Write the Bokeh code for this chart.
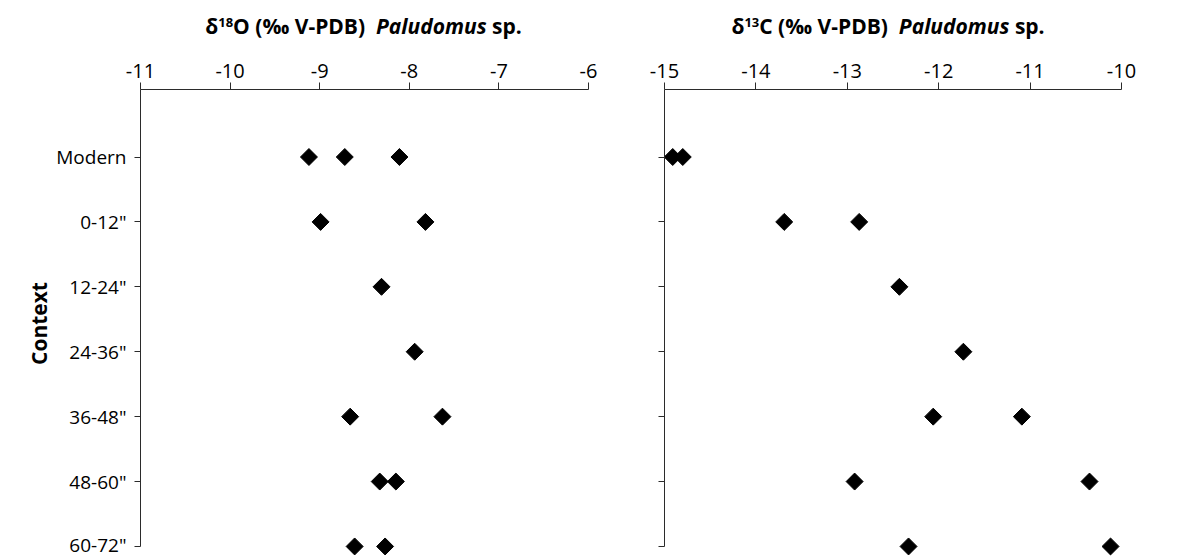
import numpy as np
from bokeh.plotting import figure
from bokeh.layouts import row, column
from bokeh.models import Range1d, FixedTicker, Div
from bokeh.embed import file_html
from bokeh.resources import INLINE

# ---- data ----
contexts = ["Modern", '0-12"', '12-24"', '24-36"', '36-48"', '48-60"', '60-72"']
d18o = [
    [-9.12, -8.72, -8.11],
    [-8.99, -7.82],
    [-8.31],
    [-7.94],
    [-8.66, -7.63],
    [-8.33, -8.15],
    [-8.61, -8.27],
]
d13c = [
    [-14.91, -14.80],
    [-13.69, -12.87],
    [-12.43],
    [-11.73],
    [-12.06, -11.09],
    [-12.92, -10.35],
    [-12.33, -10.12],
]
o_ticks = [-11, -10, -9, -8, -7, -6]
c_ticks = [-15, -14, -13, -12, -11, -10]
o_title = ("δ", "18", "O (‰ V-PDB)", "Paludomus", "sp.")
c_title = ("δ", "13", "C (‰ V-PDB)", "Paludomus", "sp.")
y_title = "Context"

FONT = "Open Sans"
AXC = "#2b2b2b"
HEAD = 50
H = 557 - HEAD
TOP = 89 - HEAD


def flat(vals):
    xs, ys = [], []
    for i, vs in enumerate(vals):
        for v in vs:
            xs.append(v)
            ys.append(i + 1)
    return xs, ys


def make_panel(width, bl, br, xr, ticks, vals, show_labels):
    p = figure(width=width, height=H, x_axis_location="above",
               x_range=Range1d(xr[0], xr[1]), y_range=Range1d(7.17, -0.04),
               output_backend="svg", toolbar_location=None,
               min_border_left=bl, min_border_right=br,
               min_border_top=TOP, min_border_bottom=0)
    p.outline_line_color = None
    p.xgrid.visible = False
    p.ygrid.visible = False
    p.background_fill_color = "white"
    p.border_fill_color = "white"

    xa = p.xaxis[0]
    xa.ticker = FixedTicker(ticks=ticks)
    xa.major_label_overrides = {t: str(t) for t in ticks}
    xa.major_tick_out = 7
    xa.major_tick_in = 0
    xa.minor_tick_out = 0
    xa.minor_tick_in = 0
    xa.axis_line_color = AXC
    xa.major_tick_line_color = AXC
    xa.major_label_text_font = FONT
    xa.major_label_text_font_size = "20px"
    xa.major_label_text_color = "black"
    xa.major_label_standoff = 5

    ya = p.yaxis[0]
    ya.ticker = FixedTicker(ticks=list(range(1, 8)))
    ya.bounds = (-0.04, 7)
    ya.major_tick_out = 6
    ya.major_tick_in = 0
    ya.minor_tick_out = 0
    ya.minor_tick_in = 0
    ya.axis_line_color = AXC
    ya.major_tick_line_color = AXC
    ya.major_label_text_font = FONT
    ya.major_label_text_font_size = "19px"
    ya.major_label_text_color = "black"
    ya.major_label_standoff = 8
    if show_labels:
        ya.major_label_overrides = {i + 1: c for i, c in enumerate(contexts)}
        ya.axis_label = y_title
        ya.axis_label_text_font = FONT
        ya.axis_label_text_font_style = "bold"
        ya.axis_label_text_font_size = "21px"
        ya.axis_label_text_color = "black"
        ya.axis_label_standoff = 0
    else:
        ya.major_label_text_font_size = "0px"
        ya.major_label_overrides = {i + 1: "" for i in range(7)}

    xs, ys = flat(vals)
    p.scatter(xs, ys, marker="square", angle=np.pi / 4, size=12,
              fill_color="black", line_color="black")
    return p


p1 = make_panel(640, 140, 52, (-11, -6), o_ticks, d18o, True)
p2 = make_panel(544, 24, 63, (-15, -10), c_ticks, d13c, False)


def head_div(width, parts, pad_l, pad_r):
    a, sup, b, it, c = parts
    html = (
        f'<div style="box-sizing:border-box;width:{width}px;height:{HEAD}px;'
        f'line-height:44px;padding-left:{pad_l}px;padding-right:{pad_r}px;'
        f"text-align:center;font-family:'{FONT}';font-weight:bold;"
        f'font-size:21px;color:black;white-space:nowrap;">'
        f'{a}<span style="font-size:13px;vertical-align:7px;">{sup}</span>{b}'
        f'&nbsp;&nbsp;<i>{it}</i> {c}</div>'
    )
    return Div(text=html, width=width, height=HEAD, margin=(0, 0, 0, 0))


d1 = head_div(640, o_title, 87, 0)
d2 = head_div(544, c_title, 0, 48)

layout = column(row(d1, d2, spacing=0), row(p1, p2, spacing=0), spacing=0)
open("out.html", "w").write(file_html(layout, INLINE))
